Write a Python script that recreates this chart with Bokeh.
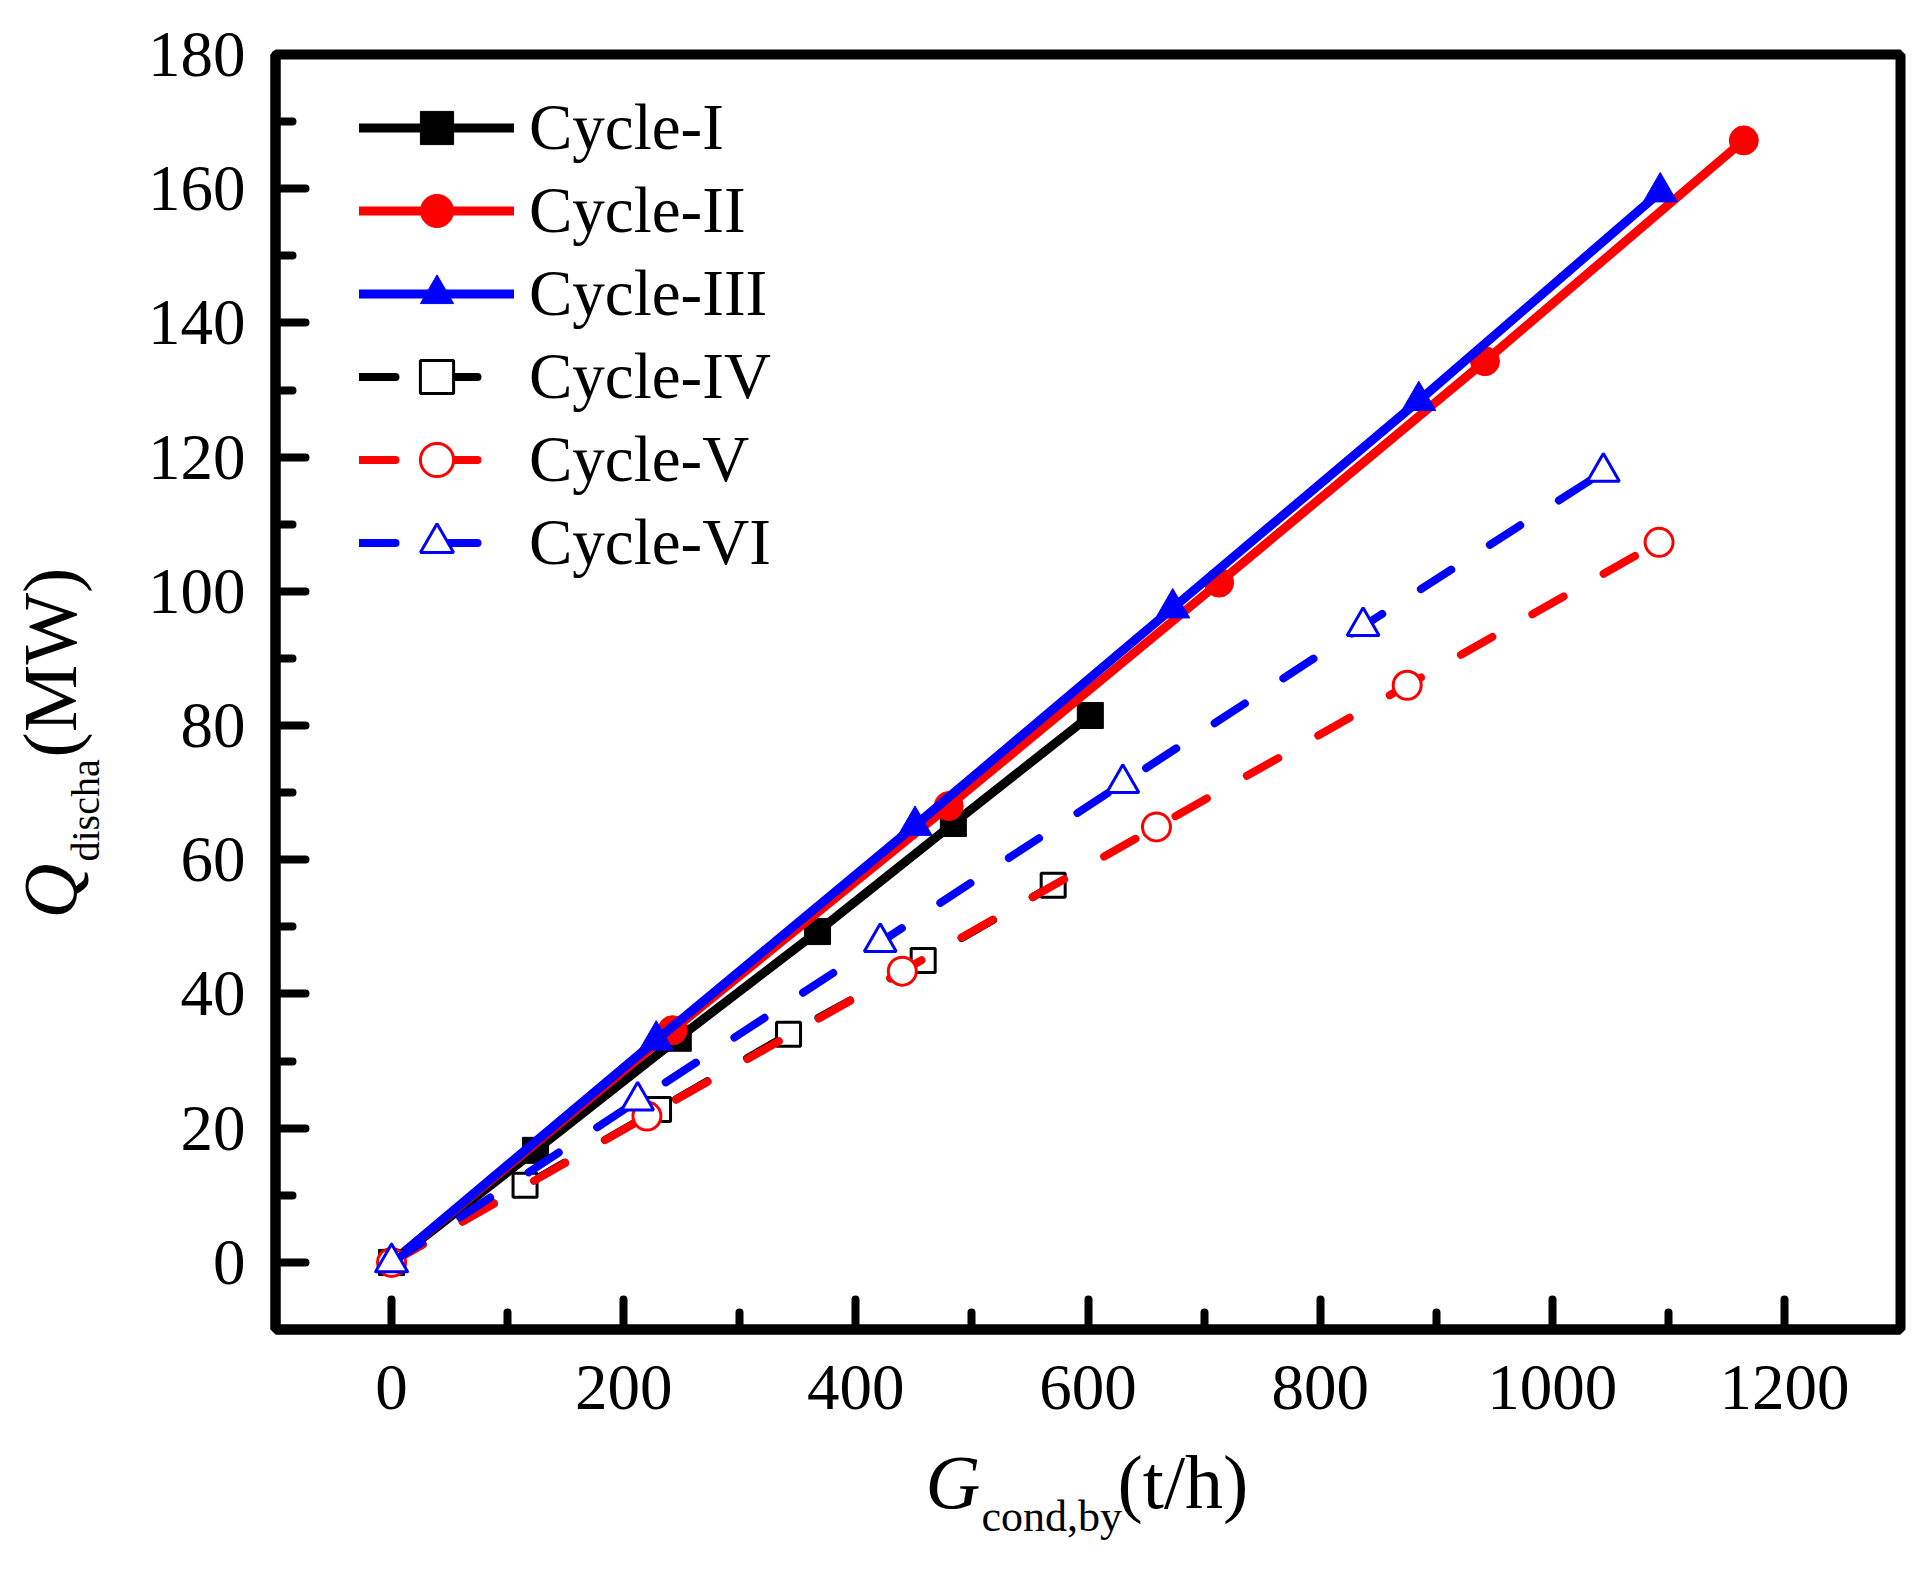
import math
from bokeh.plotting import figure
from bokeh.layouts import row, column
from bokeh.models import Range1d, FixedTicker, Legend, LegendItem
from bokeh.core.properties import value
from bokeh.embed import file_html
from bokeh.resources import INLINE

# ---------------- data ----------------
cycle1_x = [0, 124, 247, 367, 484, 602]
cycle1_y = [0, 16.7, 33.4, 49.3, 65.4, 81.5]
cycle2_x = [0, 242, 480, 713, 942, 1165]
cycle2_y = [0, 34.6, 68.0, 101.3, 134.3, 167.2]
cycle3_x = [0, 228, 451, 673, 885, 1093]
cycle3_y = [0, 33.1, 65.1, 97.5, 128.4, 159.5]
cycle4_x = [0, 115, 230, 342, 458, 570]
cycle4_y = [0, 11.5, 22.8, 34.0, 45.0, 56.2]
cycle5_x = [0, 220, 440, 659, 875, 1092]
cycle5_y = [0, 21.8, 43.4, 64.9, 86.0, 107.3]
cycle6_x = [0, 212, 421, 630, 837, 1044]
cycle6_y = [0, 24.1, 47.7, 71.4, 94.8, 117.8]

series_names = ["Cycle-I", "Cycle-II", "Cycle-III", "Cycle-IV", "Cycle-V", "Cycle-VI"]
x_major = [0, 200, 400, 600, 800, 1000, 1200]
x_minor = [100, 300, 500, 700, 900, 1100]
y_major = [0, 20, 40, 60, 80, 100, 120, 140, 160, 180]
y_minor = [10, 30, 50, 70, 90, 110, 130, 150, 170]

XMIN, XMAX = -100, 1300
YMIN, YMAX = -10, 180

# ---------------- layout constants (px) ----------------
FONT = "Liberation Serif"
PAGE_W, PAGE_H = 1930, 1574
LEFT_W = 140                      # strip holding the y title
FX0, FY0, FW, FH = 275, 54, 1625, 1275
MAIN_H = 1440
MAIN_W = PAGE_W - LEFT_W
BOTTOM_H = PAGE_H - MAIN_H
BASE_K = 0.42                     # baseline correction (fraction of font size)
XLAB_SHIFT = 140                  # measured horizontal offset of the bottom strip

# ---------------- main plot ----------------
p = figure(frame_width=FW, frame_height=FH,
           min_border_left=FX0 - LEFT_W, min_border_right=MAIN_W - (FX0 - LEFT_W) - FW,
           min_border_top=FY0, min_border_bottom=MAIN_H - FY0 - FH,
           x_range=Range1d(XMIN, XMAX), y_range=Range1d(YMIN, YMAX),
           output_backend="svg", toolbar_location=None)

p.grid.visible = False
p.background_fill_color = "white"
p.border_fill_color = "white"
p.outline_line_color = "black"
p.outline_line_width = 10

p.xaxis.ticker = FixedTicker(ticks=x_major, minor_ticks=x_minor)
p.yaxis.ticker = FixedTicker(ticks=y_major, minor_ticks=y_minor)
for ax in (p.xaxis[0], p.yaxis[0]):
    ax.axis_line_width = 10
    ax.axis_line_color = "black"
    ax.major_tick_in = 30
    ax.major_tick_out = 0
    ax.minor_tick_in = 17
    ax.minor_tick_out = 0
    ax.major_tick_line_width = 8
    ax.minor_tick_line_width = 8
    ax.major_tick_line_cap = "round"
    ax.minor_tick_line_cap = "round"
    ax.major_label_text_font = FONT
    ax.major_label_text_font_size = "65px"
    ax.major_label_text_color = "black"
p.xaxis.major_label_standoff = 36
p.yaxis.major_label_standoff = 30

styles = [
    (cycle1_x, cycle1_y, "black", "solid", "square", True, 26),
    (cycle2_x, cycle2_y, "red", "solid", "circle", True, 29),
    (cycle3_x, cycle3_y, "blue", "solid", "triangle", True, 34),
    (cycle4_x, cycle4_y, "black", "36 46", "square", False, 24),
    (cycle5_x, cycle5_y, "red", "36 46", "circle", False, 28),
    (cycle6_x, cycle6_y, "blue", "36 46", "triangle", False, 32),
]

items = []
for name, (xs, ys, col, dash, mk, filled, sz) in zip(series_names, styles):
    lw = 9 if filled else 8
    lr = p.line(xs, ys, line_color=col, line_width=lw, line_dash=dash,
                line_cap="round", line_join="round")
    if filled:
        sr = p.scatter(xs, ys, marker=mk, size=sz, fill_color=col, line_color=col, line_width=1)
    else:
        sr = p.scatter(xs, ys, marker=mk, size=sz, fill_color="white", line_color=col, line_width=3)
    items.append(LegendItem(label=name, renderers=[lr, sr]))

legend = Legend(items=items, location=(84, 745),
                glyph_width=155, glyph_height=83, label_height=83,
                label_standoff=15, spacing=0, padding=0, margin=0,
                label_text_font=FONT, label_text_font_size="65px",
                label_text_color="black", label_text_baseline="middle",
                border_line_alpha=0, background_fill_alpha=0)
p.add_layout(legend)

# ---------------- title strips ----------------
def strip(w, h):
    f = figure(frame_width=w, frame_height=h, min_border=0,
               min_border_left=0, min_border_right=0, min_border_top=0, min_border_bottom=0,
               x_range=Range1d(0, w), y_range=Range1d(0, h),
               x_axis_location=None, y_axis_location=None,
               output_backend="svg", toolbar_location=None)
    f.grid.visible = False
    f.outline_line_color = None
    f.background_fill_color = "white"
    f.border_fill_color = "white"
    return f

def put(f, x, y, txt, size, italic=False, angle=0.0):
    f.text(x=[x], y=[y], text=[txt], angle=angle,
           text_font=value(FONT), text_font_size=value("%dpx" % size),
           text_font_style="italic" if italic else "normal",
           text_color="black", text_align="left", text_baseline="alphabetic")

# y title: Q_discha(MW)  (page px: baseline x, start y from top)
ylab = strip(LEFT_W, PAGE_H)
for bx, sy, txt, size, it in [(81, 918, "Q", 76, True),
                              (102, 861, "discha", 40, False),
                              (81, 757, "(MW)", 76, False)]:
    put(ylab, bx - BASE_K * size, PAGE_H - sy, txt, size, italic=it, angle=math.pi / 2)

# x title: G_cond,by(t/h)  (page px: start x, baseline y from top)
xlab = strip(MAIN_W, BOTTOM_H)
for sx, by, txt, size, it in [(930, 1513, "G", 76, True),
                              (986, 1534, "cond,by", 44, False),
                              (1122, 1513, "(t/h)", 76, False)]:
    put(xlab, sx - LEFT_W - XLAB_SHIFT, PAGE_H - by + BASE_K * size, txt, size, italic=it)

layout = row(ylab, column(p, xlab, spacing=0), spacing=0)

open("out.html", "w").write(file_html(layout, INLINE))
